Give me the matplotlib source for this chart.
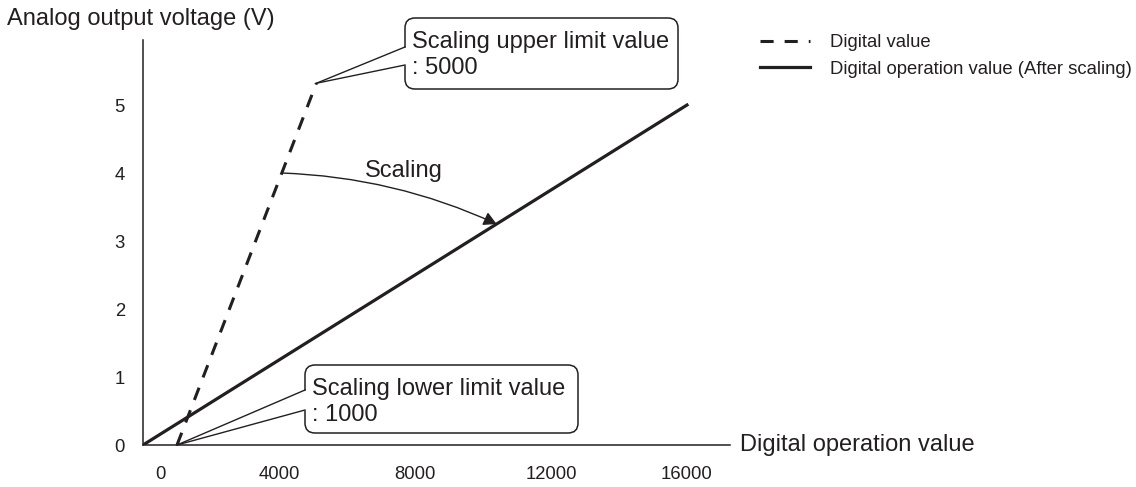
import numpy as np
import matplotlib
matplotlib.use("Agg")
import matplotlib.pyplot as plt
from matplotlib.patches import FancyBboxPatch, Polygon
from matplotlib.lines import Line2D
from matplotlib.transforms import ScaledTranslation

# data
solid_x = [0, 16000]
solid_y = [0, 5]
dashed_x = [1000, 5100]
dashed_y = [0, 5.32]
x_ticks = [0, 4000, 8000, 12000, 16000]
y_ticks = [0, 1, 2, 3, 4, 5]
arrow_end_x = 10400

ink = "#231f20"
plt.rcParams["font.family"] = ["Liberation Sans", "DejaVu Sans"]

W, H = 11.36, 4.87
fig = plt.figure(figsize=(W, H), dpi=100)
ax = fig.add_axes([143 / 1136, 42 / 487, 587 / 1136, 405 / 487])
ax.set_xlim(0, 17265)
ax.set_ylim(0, 5.956)


def inch(x, y):
    # pixel position (from top-left) -> inches for dpi_scale_trans
    return x / 100, H - y / 100


def data_to_inch(pt):
    disp = ax.transData.transform(pt)
    return fig.dpi_scale_trans.inverted().transform(disp)


dashed, = ax.plot(dashed_x, dashed_y, color=ink, lw=2.2, linestyle=(0, (4.3, 3.6)),
                  label="Digital value")
solid, = ax.plot(solid_x, solid_y, color=ink, lw=2.3,
                 label="Digital operation value (After scaling)")

for s in ["top", "right"]:
    ax.spines[s].set_visible(False)
for s in ["left", "bottom"]:
    ax.spines[s].set_color(ink)
    ax.spines[s].set_linewidth(1.1)

ax.set_xticks(x_ticks)
ax.set_xticklabels([str(v) for v in x_ticks])
ax.set_yticks(y_ticks)
ax.set_yticklabels([str(v) for v in y_ticks])
ax.tick_params(axis="x", length=0, pad=15, labelsize=13.3, labelcolor=ink)
ax.tick_params(axis="y", length=0, pad=13, labelsize=13.3, labelcolor=ink)
# the "0" on the x axis sits a little right of the origin
t0 = ax.xaxis.get_major_ticks()[0]
t0.label1.set_transform(t0.label1.get_transform() + ScaledTranslation(0.17, 0, fig.dpi_scale_trans))

tr = fig.dpi_scale_trans
fig.text(*inch(7, 19), "Analog output voltage (V)", transform=tr, fontsize=17,
         color=ink, ha="left", va="center")
fig.text(*inch(740, 445), "Digital operation value", transform=tr, fontsize=17,
         color=ink, ha="left", va="center")

fig.legend(handles=[dashed, solid], loc="upper left", bbox_to_anchor=inch(760, 34),
           bbox_transform=tr, frameon=False, fontsize=13.3, borderpad=0,
           borderaxespad=0, handlelength=2.7, handletextpad=1.08, labelspacing=0.52,
           labelcolor=ink)


def callout(tip, box, attach, lines):
    l, t, r, b = box
    x0, y0 = inch(l, b)
    x1, y1 = inch(r, t)
    fig.add_artist(FancyBboxPatch((x0, y0), x1 - x0, y1 - y0,
                                  boxstyle="round,pad=0,rounding_size=0.1",
                                  transform=tr, fc="white", ec=ink, lw=1.1, zorder=3))
    a1 = inch(l, attach[0])
    a2 = inch(l, attach[1])
    tp = data_to_inch(tip)
    fig.add_artist(Polygon([tp, (a1[0] + 0.02, a1[1]), (a2[0] + 0.02, a2[1])],
                           closed=True, transform=tr, fc="white", ec="none", zorder=4))
    for a in (a1, a2):
        fig.add_artist(Line2D([tp[0], a[0]], [tp[1], a[1]], transform=tr, color=ink,
                              lw=1.0, zorder=5))
    for i, s in enumerate(lines):
        fig.text(*inch(l + 7, t + 24 + 26 * i), s, transform=tr, fontsize=17, color=ink,
                 ha="left", va="center", zorder=6)


callout((dashed_x[1], dashed_y[1]), (405, 18, 678, 89), (47, 65),
        ["Scaling upper limit value", ": 5000"])
callout((dashed_x[0], dashed_y[0]), (305, 365, 578, 433), (390, 410),
        ["Scaling lower limit value", ": 1000"])

# scaling arrow from dashed line at 4 V to the solid line
start_x = np.interp(4, dashed_y, dashed_x)
end_y = np.interp(arrow_end_x, solid_x, solid_y)
ax.annotate("", xy=(arrow_end_x, end_y), xytext=(start_x, 4),
            arrowprops=dict(arrowstyle="-|>,head_length=0.55,head_width=0.3",
                            connectionstyle="arc3,rad=-0.1", color=ink, lw=1.0,
                            shrinkA=0, shrinkB=0, mutation_scale=14))
fig.text(*inch(404, 171), "Scaling", transform=tr, fontsize=17, color=ink,
         ha="center", va="center")

fig.savefig("out.png", dpi=100)
